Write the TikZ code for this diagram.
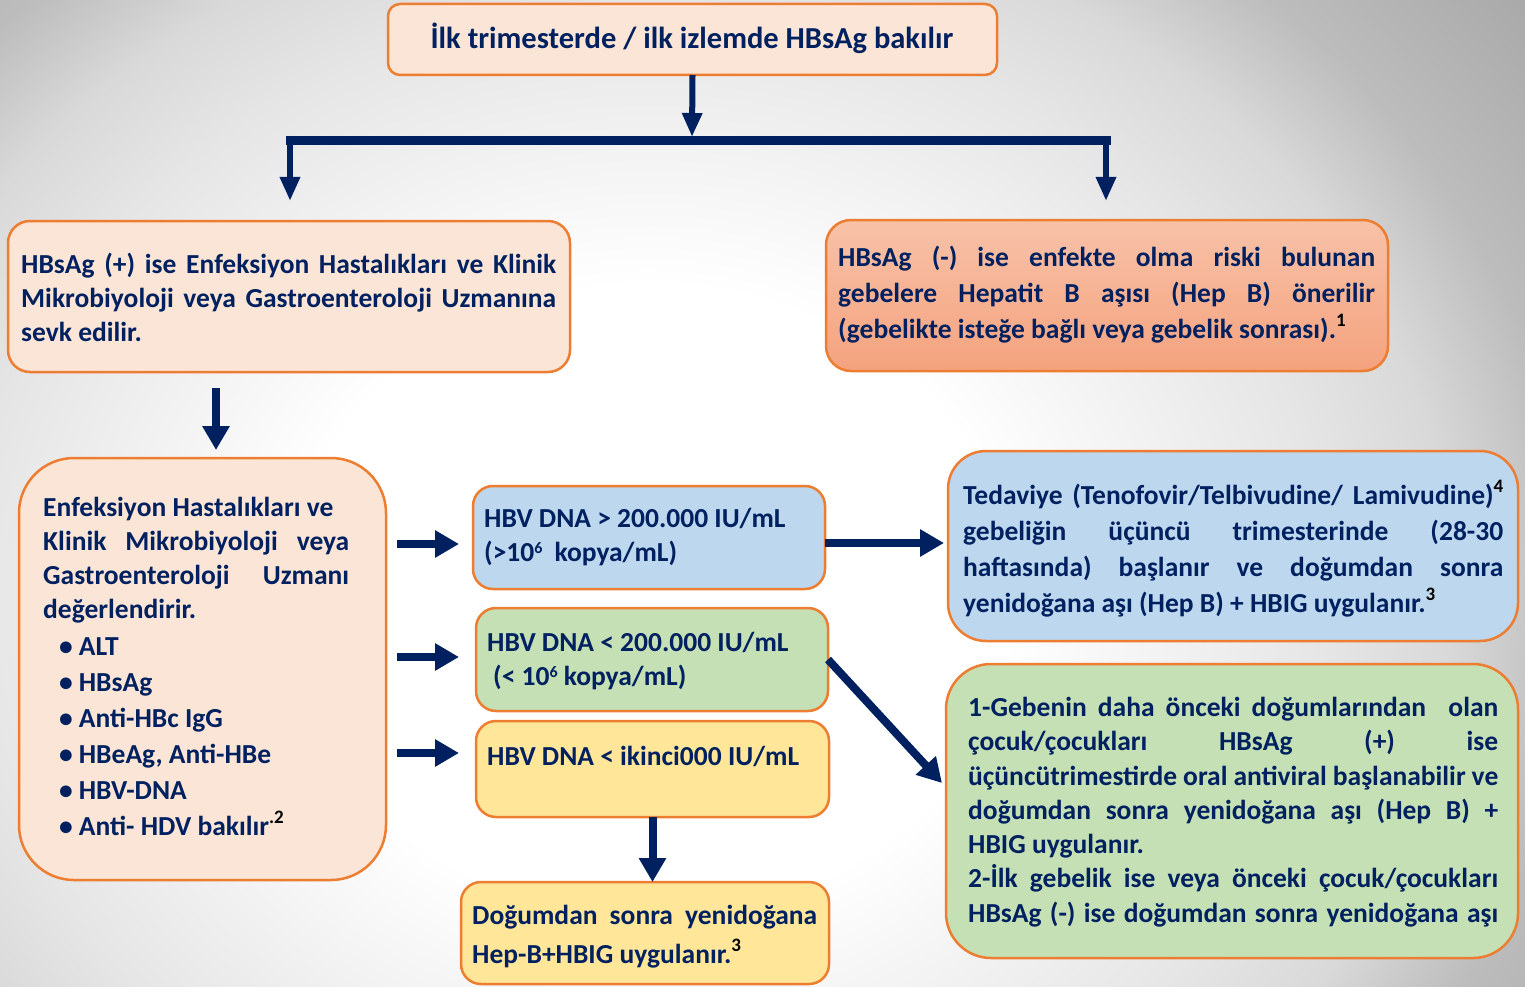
\documentclass[tikz,border=0pt]{standalone}
\usepackage{fontspec}
\setmainfont{Carlito}
\usetikzlibrary{arrows.meta}
\definecolor{navy}{HTML}{002060}
\definecolor{peach}{HTML}{FBE5D6}
\definecolor{orng}{HTML}{ED7D31}
\definecolor{salT}{HTML}{F8C2A8}
\definecolor{salB}{HTML}{F4A27E}
\definecolor{lblue}{HTML}{BDD7EE}
\definecolor{lgreen}{HTML}{C5E0B4}
\definecolor{lyellow}{HTML}{FFE699}
\pgfdeclareradialshading{bgshade}{\pgfpoint{0bp}{0bp}}{color(0bp)=(white); color(5.6bp)=(white); color(10.6bp)=(black!10); color(12.5bp)=(black!15); color(14.4bp)=(black!26); color(17.5bp)=(black!34); color(20bp)=(black!38); color(25bp)=(black!40); color(50bp)=(black!40)}
\newcommand\jl[2]{\makebox[#1][s]{#2}}
\newcommand\sps[1]{\raisebox{12pt}{\fontsize{19}{19}\selectfont\color{black}#1}}
\newcommand\pw[1]{\raisebox{8pt}{\fontsize{16}{16}\selectfont #1}}
\newcommand\bul{\hspace*{16pt}\textbullet\hspace{6pt}}
\begin{document}
\begin{tikzpicture}[x=1pt,y=-1pt,
  box/.style={draw=orng, line width=2.5pt, inner sep=0pt, outer sep=0pt, anchor=north west},
  txt/.style={align=left, inner sep=0pt, anchor=west, text=navy, font=\fontsize{27.5}{34}\selectfont\bfseries},
  arr/.style={draw=navy, line width=8pt, -{Triangle[width=26pt,length=24pt]}},
  arrs/.style={draw=navy, line width=6pt, -{Triangle[width=19pt,length=24pt]}}]
\useasboundingbox (0,0) rectangle (1525,987);
\begin{scope}
  \clip (0,0) rectangle (1525,987);
  \shade[shading=bgshade] (-950,-800) rectangle (2250,2000);
\end{scope}

% boxes
\node[box, fill=peach, rounded corners=12pt, minimum width=609pt, minimum height=71pt] (top) at (388,4) {};
\node[box, fill=peach, rounded corners=22pt, minimum width=562pt, minimum height=151pt] (hpos) at (8,221) {};
\node[box, top color=salT, bottom color=salB, rounded corners=25pt, minimum width=562pt, minimum height=151pt] (hneg) at (826,220) {};
\node[box, fill=peach, rounded corners=55pt, minimum width=367pt, minimum height=422pt] (eval) at (19,458) {};
\node[box, fill=lblue, rounded corners=20pt, minimum width=352pt, minimum height=103pt] (high) at (473,486) {};
\node[box, fill=lgreen, rounded corners=20pt, minimum width=352pt, minimum height=103pt] (mid) at (476,608) {};
\node[box, fill=lyellow, rounded corners=20pt, minimum width=353pt, minimum height=96pt] (low) at (476,721) {};
\node[box, fill=lyellow, rounded corners=20pt, minimum width=368pt, minimum height=102pt] (post) at (461,882) {};
\node[box, fill=lblue, rounded corners=38pt, minimum width=570pt, minimum height=190pt] (treat) at (948,451) {};
\node[box, fill=lgreen, rounded corners=45pt, minimum width=572pt, minimum height=294pt] (plan) at (946,664) {};

% connectors
\coordinate (bm) at (692,137);
\coordinate (bl) at (290,141);
\coordinate (br) at (1106,141);
\coordinate (tl) at (290,201);
\coordinate (tr) at (1106,201);
\draw[arrs] (top.south) -- (bm);
\draw[navy, line width=9pt, line cap=rect] (bl) -- (br);
\draw[arrs] (bl) -- (tl);
\draw[arrs] (br) -- (tr);
\coordinate (d1) at (216,388);
\coordinate (d2) at (216,450);
\draw[arr] (d1) -- (d2);
\coordinate (e1) at (397,544); \coordinate (f1) at (459,544);
\coordinate (e2) at (397,657); \coordinate (f2) at (459,657);
\coordinate (e3) at (397,753); \coordinate (f3) at (459,753);
\draw[arr] (e1) -- (f1);
\draw[arr] (e2) -- (f2);
\draw[arr] (e3) -- (f3);
\coordinate (hb) at (944,543);
\draw[arr] (high.east |- hb) -- (hb);
\coordinate (pd) at (942,783);
\draw[arr] (mid.east) -- (pd);
\draw[arr] (low.south) -- (low.south |- post.north);

% texts
\node[txt, anchor=center, font=\fontsize{30.5}{36}\selectfont\bfseries] (tTop) at (692,38) {İlk trimesterde / ilk izlemde HBsAg bakılır};
\node[txt] (tPos) at (21,297) {\jl{535pt}{HBsAg (+) ise Enfeksiyon Hastalıkları ve Klinik}\\ \jl{535pt}{Mikrobiyoloji veya Gastroenteroloji Uzmanına}\\ sevk edilir.};
\node[txt, font=\fontsize{27.5}{36}\selectfont\bfseries] (tNeg) at (838,295) {\jl{537pt}{HBsAg (-) ise enfekte olma riski bulunan}\\ \jl{537pt}{gebelere Hepatit B aşısı (Hep B) önerilir}\\ (gebelikte isteğe bağlı veya gebelik sonrası).\sps{1}};
\node[txt] (tEval) at (43,666) {Enfeksiyon Hastalıkları ve\\ \jl{306pt}{Klinik Mikrobiyoloji veya}\\ \jl{306pt}{Gastroenteroloji Uzmanı}\\ değerlendirir.\\[3pt] \bul ALT\\[2pt] \bul HBsAg\\[2pt] \bul Anti-HBc IgG\\[2pt] \bul HBeAg, Anti-HBe\\[2pt] \bul HBV-DNA\\[2pt] \bul Anti- HDV bakılır\sps{.2}};
\node[txt] (tHigh) at (484,537) {HBV DNA > 200.000 IU/mL\\ (>10\pw{6}\hspace{6pt} kopya/mL)};
\node[txt] (tMid) at (487,661) {HBV DNA < 200.000 IU/mL\\ \hspace*{6pt}(< 10\pw{6} kopya/mL)};
\node[txt] (tLow) at (487,756) {HBV DNA < ikinci000 IU/mL};
\node[txt, font=\fontsize{27.5}{39}\selectfont\bfseries] (tPost) at (472,937) {\jl{345pt}{Doğumdan sonra yenidoğana}\\ Hep-B+HBIG uygulanır.\sps{3}};
\node[txt, font=\fontsize{27.5}{36}\selectfont\bfseries] (tTreat) at (963,549) {\jl{540pt}{Tedaviye (Tenofovir/Telbivudine/ Lamivudine)\sps{4}}\\ \jl{540pt}{gebeliğin üçüncü trimesterinde (28-30}\\ \jl{540pt}{haftasında) başlanır ve doğumdan sonra}\\ yenidoğana aşı (Hep B) + HBIG uygulanır.\sps{3}};
\node[txt, font=\fontsize{27.5}{34.3}\selectfont\bfseries] (tPlan) at (968,812) {\jl{530pt}{1-Gebenin daha önceki doğumlarından \ olan}\\ \jl{530pt}{çocuk/çocukları HBsAg (+) ise}\\ \jl{530pt}{üçüncütrimestirde oral antiviral başlanabilir ve}\\ \jl{530pt}{doğumdan sonra yenidoğana aşı (Hep B) +}\\ HBIG uygulanır.\\ \jl{530pt}{2-İlk gebelik ise veya önceki çocuk/çocukları}\\ \jl{530pt}{HBsAg (-) ise doğumdan sonra yenidoğana aşı}};
\end{tikzpicture}
\end{document}
